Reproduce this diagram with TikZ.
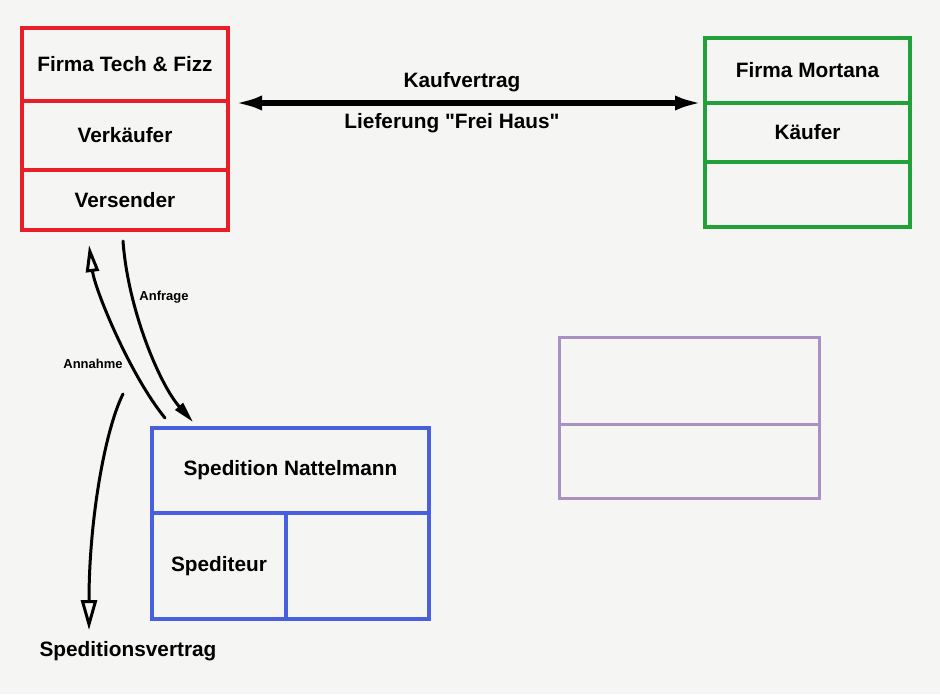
\documentclass[tikz,border=0pt]{standalone}
\usepackage{fontspec}
\setmainfont{Liberation Sans}
\usepackage{xcolor}
\usepackage{tikz}
\usetikzlibrary{arrows.meta}
\definecolor{bggray}{RGB}{245,245,243}
\definecolor{techred}{RGB}{232,30,40}
\definecolor{mortgreen}{RGB}{34,160,58}
\definecolor{lilac}{RGB}{170,145,195}
\definecolor{spedblue}{RGB}{72,96,222}
\newcommand{\boxfont}{\fontsize{20.8}{24}\selectfont\bfseries}
\newcommand{\notefont}{\fontsize{13}{15}\selectfont\bfseries}

\begin{document}
\begin{tikzpicture}[x=1pt, y=-1pt,
    cell/.style={draw, inner sep=0pt, font=\boxfont},
    note/.style={inner sep=0pt, font=\notefont},
    label/.style={inner sep=0pt, font=\boxfont},
    curve/.style={line width=3pt, line cap=round}]

      \fill[bggray] (0,0) rectangle (940,694);

      % Firma Tech & Fizz
      \node[cell, techred, line width=4pt, text=black, minimum width=206pt, minimum height=73pt] (tech) at (125,64.5) {Firma Tech \& Fizz};
      \node[cell, techred, line width=4pt, text=black, minimum width=206pt, minimum height=69pt] (verk) at (125,135.5) {Verkäufer};
      \node[cell, techred, line width=4pt, text=black, minimum width=206pt, minimum height=60pt] (vers) at (125,200) {Versender};

      % Firma Mortana
      \node[cell, mortgreen, line width=4pt, text=black, minimum width=205pt, minimum height=65pt] (mortana) at (807.5,70.5) {Firma Mortana};
      \node[cell, mortgreen, line width=4pt, text=black, minimum width=205pt, minimum height=59pt] (kaeufer) at (807.5,132.5) {Käufer};
      \node[cell, mortgreen, line width=4pt, minimum width=205pt, minimum height=65pt] (mortleer) at (807.5,194.5) {};

      % leeres Feld
      \node[cell, lilac, line width=3pt, minimum width=260pt, minimum height=87pt] (lilaA) at (689,380.5) {};
      \node[cell, lilac, line width=3pt, minimum width=260pt, minimum height=74pt] (lilaB) at (689,461) {};

      % Spedition Nattelmann
      \node[cell, spedblue, line width=3.5pt, text=black, minimum width=277pt, minimum height=85pt] (nattel) at (290.5,470.5) {Spedition Nattelmann};
      \node[cell, spedblue, line width=3.5pt, text=black, minimum width=134pt, minimum height=106pt] (spediteur) at (219,566) {Spediteur};
      \node[cell, spedblue, line width=3.5pt, minimum width=143pt, minimum height=106pt] (nattelleer) at (357.5,566) {};

      % Kaufvertrag
      \draw[line width=5.5pt, {Latex[length=28pt,width=15pt]}-{Latex[length=28pt,width=15pt]},
            shorten <=4pt, shorten >=0pt]
        (tech.south east) -- (tech.south east -| mortana.west);
      \node[label] (kauf) at (462,82) {Kaufvertrag};
      \node[label] (liefer) at (452,123) {Lieferung \textquotedbl Frei Haus\textquotedbl};

      % Anfrage / Annahme
      \coordinate (anfrageA) at (123,241);
      \coordinate (anfrageB) at (193,422);
      \coordinate (annahmeA) at (165,418);
      \coordinate (annahmeB) at (89,245);
      \coordinate (vertragA) at (123,394);
      \coordinate (vertragB) at (89,630);

      \draw[curve, -{Triangle[length=21pt,width=10pt]}]
        (anfrageA) .. controls (128,310) and (160,385) .. (anfrageB);
      \draw[curve, -{Triangle[open,length=27pt,width=13pt]}]
        (annahmeA) .. controls (130,375) and (95,290) .. (annahmeB);
      \draw[curve, -{Triangle[open,length=30pt,width=16pt]}]
        (vertragA) .. controls (105,430) and (89,520) .. (vertragB);

      \node[note] (anfrage) at (164,297) {Anfrage};
      \node[note] (annahme) at (93,364) {Annahme};
      \node[label] (spedv) at (128,651) {Speditionsvertrag};

    \end{tikzpicture}
\end{document}
